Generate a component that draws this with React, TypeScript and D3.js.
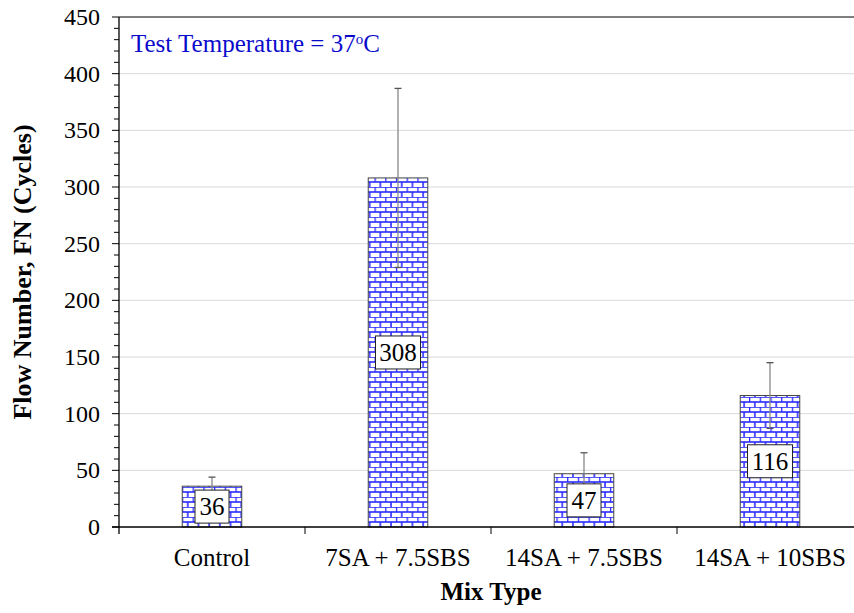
import React from "react";
import * as d3 from "d3";

const categories = ["Control", "7SA + 7.5SBS", "14SA + 7.5SBS", "14SA + 10SBS"];
const flowNumbers = [36, 308, 47, 116];
const errorMargins = [8, 79, 18.5, 29];
const yTicks = [0, 50, 100, 150, 200, 250, 300, 350, 400, 450];

const W = 854;
const H = 613;
const margin = { left: 119, top: 17, bottom: 86 };
const plotRight = 863;
const FONT = "'Times New Roman', 'Liberation Serif', serif";

export default function App() {
  const x = d3.scaleBand<string>().domain(categories).range([margin.left, plotRight]).paddingInner(0.68).paddingOuter(0.34);
  const y = d3.scaleLinear().domain([0, 450]).range([H - margin.bottom, margin.top]);
  const minor = d3.range(0, 451, 10);
  const bw = x.bandwidth();
  const step = x.step();
  const y0 = y(0);

  return (
    <svg width={W} height={H} style={{ position: "absolute", left: 0, top: 0, background: "#fff", fontFamily: FONT }}>
      <defs>
        <pattern id="brick" patternUnits="userSpaceOnUse" width={10.7} height={10} x={0} y={y0}>
          <rect width={10.7} height={10} fill="#fff" />
          <g stroke="#2a2aff" strokeWidth={1.6} fill="none">
            <line x1={0} x2={10.7} y1={0} y2={0} />
            <line x1={0} x2={10.7} y1={5} y2={5} />
            <line x1={0.5} x2={0.5} y1={0} y2={5} />
            <line x1={5.85} x2={5.85} y1={5} y2={10} />
          </g>
        </pattern>
      </defs>
      {/* gridlines */}
      {yTicks.filter((t) => t > 0 && t < 450).map((t) => (
        <line key={t} x1={margin.left} x2={plotRight} y1={y(t)} y2={y(t)} stroke="#d9d9d9" strokeWidth={1} />
      ))}
      <line x1={margin.left} x2={plotRight} y1={y(450)} y2={y(450)} stroke="#555" strokeWidth={1.5} />
      {/* bars */}
      {categories.map((c, i) => (
        <rect key={c} x={x(c)!} y={y(flowNumbers[i])} width={bw} height={y0 - y(flowNumbers[i])} fill="url(#brick)" stroke="#444" strokeWidth={1} />
      ))}
      {/* error bars */}
      {categories.map((c, i) => {
        const cx = x(c)! + bw / 2;
        const hi = y(flowNumbers[i] + errorMargins[i]);
        const lo = y(flowNumbers[i] - errorMargins[i]);
        return (
          <g key={c}>
            <line x1={cx} x2={cx} y1={hi} y2={lo} stroke="#888" strokeWidth={1.3} />
            <line x1={cx - 3.5} x2={cx + 3.5} y1={hi} y2={hi} stroke="#555" strokeWidth={1.3} />
            <line x1={cx - 3.5} x2={cx + 3.5} y1={lo} y2={lo} stroke="#555" strokeWidth={1.3} />
          </g>
        );
      })}
      {/* value labels */}
      {categories.map((c, i) => {
        const cx = x(c)! + bw / 2;
        const cy = y(flowNumbers[i] / 2);
        const label = String(flowNumbers[i]);
        const bwid = label.length > 2 ? 45 : 34;
        return (
          <g key={c}>
            <rect x={cx - bwid / 2} y={cy - 16.5} width={bwid} height={33} fill="#fff" stroke="#222" strokeWidth={1} />
            <text x={cx} y={cy + 8.5} textAnchor="middle" fontSize={25} fill="#000">{label}</text>
          </g>
        );
      })}
      {/* y axis */}
      <line x1={margin.left} x2={margin.left} y1={y(450)} y2={y0 + 7} stroke="#000" strokeWidth={1.3} />
      {minor.map((t) => (
        <line key={t} x1={margin.left - (t % 50 === 0 ? 7 : 5)} x2={margin.left} y1={y(t)} y2={y(t)} stroke="#000" strokeWidth={1} />
      ))}
      {yTicks.map((t) => (
        <text key={t} x={100} y={y(t) + 8} textAnchor="end" fontSize={24} fill="#000">{t}</text>
      ))}
      {/* x axis */}
      <line x1={margin.left - 7} x2={plotRight} y1={y0} y2={y0} stroke="#000" strokeWidth={1.3} />
      {categories.map((c, i) => (
        <line key={c} x1={margin.left + step * (i + 1)} x2={margin.left + step * (i + 1)} y1={y0} y2={y0 + 7} stroke="#000" strokeWidth={1} />
      ))}
      {categories.map((c) => (
        <text key={c} x={x(c)! + bw / 2} y={566} textAnchor="middle" fontSize={25} fill="#000">{c}</text>
      ))}
      <text x={491} y={600} textAnchor="middle" fontSize={25} fontWeight="bold" fill="#000">Mix Type</text>
      <text transform={`translate(31, ${y(225)}) rotate(-90)`} textAnchor="middle" fontSize={26} fontWeight="bold" fill="#000">Flow Number, FN (Cycles)</text>
      <text x={131} y={52} fontSize={25} fill="#0a0acc">
        Test Temperature = 37<tspan fontSize={15} dy={-8}>o</tspan><tspan dy={8}>C</tspan>
      </text>
    </svg>
  );
}
